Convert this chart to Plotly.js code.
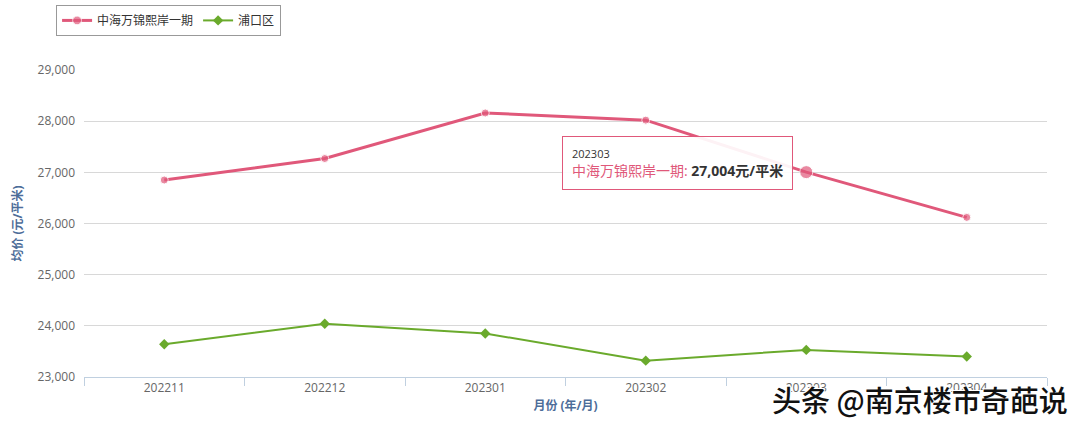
<!DOCTYPE html>
<html><head><meta charset="utf-8">
<script src="https://cdn.plot.ly/plotly-3.0.1.min.js"></script>
<style>html,body{margin:0;padding:0;background:#fff}#c{width:1080px;height:424px}</style>
</head><body><div id="c"></div>
<script>
const months = ['202211','202212','202301','202302','202303','202304'];
const projectName = '中海万锦熙岸一期';
const districtName = '浦口区';
const projectPrice = [26850, 27270, 28160, 28020, 27004, 26120];
const districtPrice = [23640, 24040, 23850, 23320, 23530, 23400];
const yTicks = [23000, 24000, 25000, 26000, 27000, 28000, 29000];
const hoverIndex = 4;

const red = '#e0587a', green = '#6aaa2c';
const font = "'Open Sans','Noto Sans CJK SC',sans-serif";

const traces = [
  {x: months, y: projectPrice, name: projectName, type: 'scatter', mode: 'lines+markers',
   line: {color: red, width: 3},
   marker: {symbol: 'circle', color: red, size: months.map((m, i) => i === hoverIndex ? 13 : 8)}},
  {x: months, y: districtPrice, name: districtName, type: 'scatter', mode: 'lines+markers',
   line: {color: green, width: 2},
   marker: {symbol: 'diamond', color: green, size: 8}}
];

const fmt = v => v.toLocaleString('en-US');

const layout = {
  width: 1080, height: 424,
  margin: {l: 84, r: 33, t: 70, b: 47, autoexpand: false},
  paper_bgcolor: '#fff', plot_bgcolor: '#fff',
  font: {family: font, size: 12, color: '#666'},
  showlegend: true,
  legend: {orientation: 'h', x: -0.029, y: 1.212, xanchor: 'left', yanchor: 'top',
    bordercolor: '#999', borderwidth: 1, bgcolor: '#fff',
    font: {family: font, size: 12, color: '#333'}, itemwidth: 30},
  xaxis: {type: 'category', range: [-0.5, 5.5], showgrid: false, zeroline: false,
    showline: true, linecolor: '#c0d0e0', linewidth: 1,
    ticks: 'outside', tickson: 'boundaries', ticklen: 8, tickcolor: '#c0d0e0',
    tickfont: {family: font, size: 12, color: '#666'},
    title: {text: '<b>月份 (年/月)</b>', font: {family: font, size: 12, color: '#4d6d99'}, standoff: 6}},
  yaxis: {range: [23000, 29000], tickvals: yTicks, ticktext: yTicks.map(fmt),
    showgrid: true, gridcolor: '#d8d8d8', zeroline: false, showline: false,
    ticks: '', ticklabelstandoff: 8,
    tickfont: {family: font, size: 12, color: '#666'},
    title: {text: '<b>均价 (元/平米)</b>', font: {family: font, size: 12, color: '#4d6d99'}, standoff: 12}},
  annotations: [
    {xref: 'paper', yref: 'paper', x: 0.496, y: 0.785, xanchor: 'left', yanchor: 'top',
     showarrow: false, align: 'left', bgcolor: 'rgba(255,255,255,0.92)', bordercolor: red,
     borderwidth: 1, borderpad: 9,
     text: '<span style="font-size:11px;color:#333">' + months[hoverIndex] + '</span><br>' +
       '<span style="color:' + red + '">' + projectName + ':</span> <b style="color:#333">' +
       fmt(projectPrice[hoverIndex]) + '元/平米</b>',
     font: {family: font, size: 14, color: '#333'}},
    {xref: 'paper', yref: 'paper', x: 1.024, y: -0.072, xanchor: 'right', yanchor: 'middle',
     showarrow: false, text: '头条 @南京楼市奇葩说',
     font: {family: "'Noto Sans CJK SC',sans-serif", size: 29, color: '#111', weight: 500,
       shadow: '1px 1px 0 #fff, -1px -1px 0 #fff, 1px -1px 0 #fff, -1px 1px 0 #fff'}}
  ]
};

Plotly.newPlot('c', traces, layout, {displayModeBar: false, staticPlot: true});
</script></body></html>
